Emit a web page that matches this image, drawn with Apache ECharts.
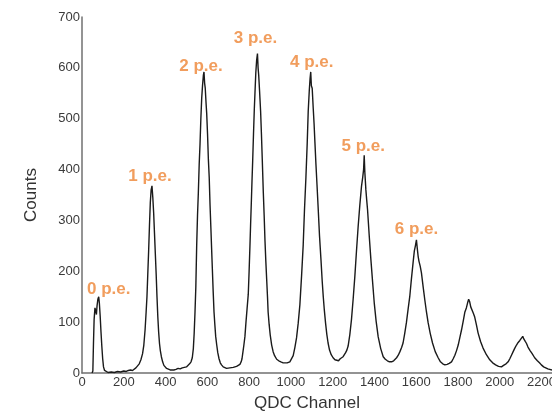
<!DOCTYPE html>
<html><head><meta charset="utf-8">
<script src="https://cdn.jsdelivr.net/npm/echarts@6/dist/echarts.min.js"></script>
<style>html,body{margin:0;padding:0;background:#fff}#c{width:552px;height:414px}</style>
</head><body><div id="c"></div>
<script>
// Spectrum: [QDC channel, counts]
const spectrum = [
[48,0],[52,4],[55,60],[58,105],[62,128],[66,122],[69,115],[72,132],[76,145],[80,150],[83,138],[87,112],[91,80],[95,52],[99,28],[103,12],[108,5],[115,2],[125,1],[140,2],[155,1],[170,3],[185,2],[200,4],[212,3],[222,5],[232,6],[242,5],[250,8],[258,10],[266,14],[274,18],[282,26],[290,38],[296,55],[302,85],[307,120],[311,150],[315,195],[319,240],[323,290],[327,335],[331,360],[335,368],[339,345],[343,315],[347,275],[351,235],[355,195],[359,150],[363,110],[367,80],[371,58],[375,44],[380,32],[386,22],[392,15],[398,12],[405,9],[413,7],[422,6],[431,8],[440,6],[450,7],[460,9],[470,8],[480,10],[490,11],[500,12],[508,14],[515,18],[522,22],[528,30],[533,48],[537,78],[541,120],[545,170],[549,250],[553,310],[557,355],[561,410],[565,450],[569,500],[573,540],[577,565],[581,585],[584,592],[587,570],[590,560],[594,530],[597,510],[601,470],[605,420],[609,385],[613,330],[617,285],[620,250],[624,205],[628,160],[632,120],[636,95],[640,72],[645,55],[650,40],[656,28],[662,20],[668,16],[676,12],[684,11],[692,9],[700,10],[708,10],[716,9],[724,11],[732,12],[740,13],[748,14],[756,17],[762,22],[766,28],[770,40],[775,55],[780,72],[785,100],[790,125],[796,155],[800,200],[804,250],[807,290],[811,340],[814,380],[817,416],[821,470],[825,520],[828,550],[832,590],[836,615],[840,628],[843,600],[846,585],[850,555],[855,515],[859,470],[863,420],[868,355],[872,310],[876,260],[880,220],[884,185],[888,150],[891,120],[896,95],[901,75],[908,55],[915,42],[922,34],[932,27],[942,24],[952,22],[963,20],[972,21],[982,20],[995,22],[1003,25],[1011,34],[1019,50],[1027,69],[1035,98],[1043,134],[1051,190],[1059,252],[1065,320],[1072,385],[1078,450],[1083,515],[1088,555],[1092,580],[1095,592],[1098,565],[1102,560],[1107,520],[1111,490],[1115,454],[1120,410],[1125,370],[1131,321],[1137,270],[1144,223],[1150,180],[1155,150],[1160,124],[1166,98],[1172,76],[1178,59],[1185,45],[1193,36],[1202,30],[1211,26],[1220,27],[1228,24],[1236,28],[1244,30],[1250,32],[1256,36],[1262,40],[1268,45],[1274,53],[1282,75],[1290,105],[1298,145],[1306,189],[1314,240],[1322,288],[1330,330],[1338,367],[1344,385],[1348,400],[1351,428],[1354,395],[1359,360],[1363,340],[1367,321],[1375,270],[1383,223],[1391,180],[1399,138],[1408,102],[1418,71],[1430,48],[1442,32],[1452,27],[1462,24],[1472,22],[1482,22],[1492,24],[1500,27],[1506,30],[1514,35],[1522,42],[1530,50],[1537,59],[1545,78],[1553,99],[1561,125],[1569,150],[1577,185],[1585,217],[1591,240],[1596,250],[1601,262],[1605,245],[1609,230],[1613,220],[1619,210],[1625,197],[1633,170],[1641,144],[1649,120],[1657,99],[1667,78],[1678,59],[1691,42],[1705,30],[1716,22],[1727,18],[1737,16],[1748,17],[1758,19],[1769,22],[1777,28],[1785,35],[1793,44],[1801,55],[1809,70],[1817,85],[1825,102],[1833,120],[1840,128],[1846,138],[1851,145],[1856,140],[1861,130],[1866,128],[1873,118],[1880,110],[1888,95],[1896,79],[1908,62],[1920,49],[1936,36],[1952,26],[1966,20],[1980,16],[1994,13],[2008,12],[2018,15],[2030,18],[2040,22],[2048,28],[2056,35],[2064,42],[2072,49],[2080,55],[2088,60],[2096,64],[2104,66],[2110,72],[2115,67],[2122,62],[2128,58],[2135,51],[2145,44],[2155,38],[2167,30],[2180,24],[2190,20],[2199,16],[2210,12],[2220,10],[2230,8],[2239,6],[2250,6]
];
// Photo-electron peak annotations
const peakNames = ['0 p.e.','1 p.e.','2 p.e.','3 p.e.','4 p.e.','5 p.e.','6 p.e.'];
const peakChannels = [80, 335, 584, 840, 1095, 1351, 1601];
const peakCounts = [150, 368, 592, 628, 592, 428, 262];
// Axis ticks
const xMin = 0, xMax = 2250, xStep = 200;
const yMin = 0, yMax = 700, yStep = 100;

const labelOffsets = [[10,-7],[-2,-10],[-3,-6],[-2,-15],[1,-10],[-1,-9],[0,-10]];
const font = '"Liberation Sans", Arial, sans-serif';
const chart = echarts.init(document.getElementById('c'));
chart.setOption({
  animation: false,
  grid: {left: 82, right: 0, top: 17, bottom: 41, containLabel: false, outerBoundsMode: 'none'},
  xAxis: {
    type: 'value', min: xMin, max: xMax, interval: xStep,
    name: 'QDC Channel', nameLocation: 'middle', nameGap: 22,
    nameTextStyle: {fontFamily: font, fontSize: 17, color: '#333', padding: [0, 20, 0, 0]},
    axisLine: {show: true, lineStyle: {color: '#707070', width: 1.5}},
    axisTick: {show: false}, splitLine: {show: false},
    axisLabel: {fontFamily: font, fontSize: 13, color: '#3a3a3a', margin: 3, hideOverlap: false,
      formatter: v => (v % xStep === 0 ? String(v) : '')}
  },
  yAxis: {
    type: 'value', min: yMin, max: yMax, interval: yStep,
    name: 'Counts', nameLocation: 'middle', nameGap: 42, nameRotate: 90,
    nameTextStyle: {fontFamily: font, fontSize: 17, color: '#333'},
    axisLine: {show: true, lineStyle: {color: '#707070', width: 1.5}},
    axisTick: {show: false}, splitLine: {show: false},
    axisLabel: {fontFamily: font, fontSize: 13, color: '#3a3a3a', margin: 2}
  },
  series: [
    {type: 'line', data: spectrum, showSymbol: false, symbol: 'none',
     lineStyle: {color: '#1a1a1a', width: 1.4}},
    {type: 'scatter', symbolSize: 0, silent: true,
     data: peakNames.map((n, i) => ({
       value: [peakChannels[i], peakCounts[i]], name: n,
       label: {show: true, position: 'inside', offset: labelOffsets[i], formatter: n,
         fontFamily: font, fontSize: 17, fontWeight: 'bold', color: '#ee8535'}
     }))}
  ]
});
</script></body></html>
